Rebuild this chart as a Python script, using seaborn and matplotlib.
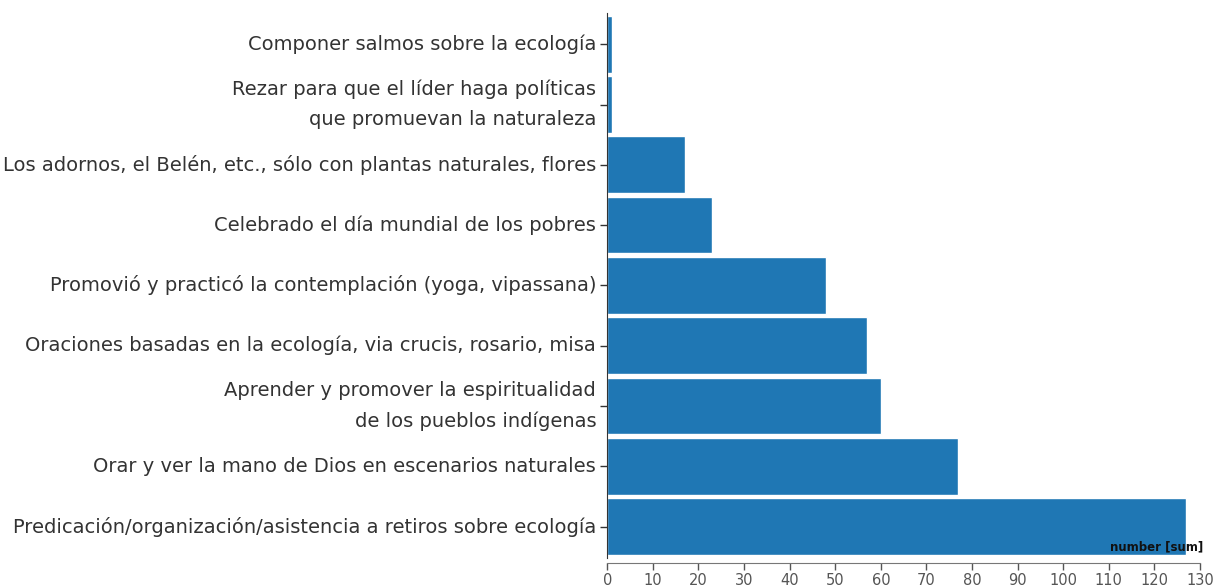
import numpy as np
import seaborn as sns
import matplotlib.pyplot as plt
import pandas as pd

activities = [
    'Componer salmos sobre la ecología',
    'Rezar para que el líder haga políticas\nque promuevan la naturaleza',
    'Los adornos, el Belén, etc., sólo con plantas naturales, flores',
    'Celebrado el día mundial de los pobres',
    'Promovió y practicó la contemplación (yoga, vipassana)',
    'Oraciones basadas en la ecología, via crucis, rosario, misa',
    'Aprender y promover la espiritualidad\nde los pueblos indígenas',
    'Orar y ver la mano de Dios en escenarios naturales',
    'Predicación/organización/asistencia a retiros sobre ecología',
]
number = [1, 1, 17, 23, 48, 57, 60, 77, 127]
x_ticks = list(range(0, 131, 10))

df = pd.DataFrame({'activity': activities, 'number': number})

sns.set_style('white')
plt.rcParams['font.family'] = ['DejaVu Sans']

fig = plt.figure(figsize=(12.17, 5.86), dpi=100)
ax = fig.add_axes([0.499, 0.048, 0.487, 0.93])

sns.barplot(data=df, x='number', y='activity', orient='h', color='#1f77b4',
            saturation=1, width=0.94, ax=ax)

ax.set_xlim(0, 130)
ax.set_xticks(x_ticks)
ax.set_ylim(8.52, -0.52)
ax.set_xlabel('')
ax.set_ylabel('')
ax.tick_params(axis='y', length=5, width=1, color='#333333', labelsize=14, pad=3,
               labelcolor='#333333', left=True)
ax.tick_params(axis='x', length=5, width=1, color='#555555', labelsize=10.5, pad=2,
               labelcolor='#555555', bottom=True)
for lbl in ax.get_yticklabels():
    lbl.set_horizontalalignment('right')
    lbl.set_multialignment('right')
    lbl.set_verticalalignment('center')
    lbl.set_linespacing(1.75)

for side in ['top', 'right']:
    ax.spines[side].set_visible(False)
ax.spines['left'].set_color('#333333')
ax.spines['bottom'].set_color('#777777')
ax.spines['bottom'].set_position(('outward', 4))

ax.text(1.005, 0.008, 'number [sum]', transform=ax.transAxes, ha='right', va='bottom',
        fontsize=8.5, fontweight='bold', color='#111111')

fig.savefig('out.png', dpi=100)
